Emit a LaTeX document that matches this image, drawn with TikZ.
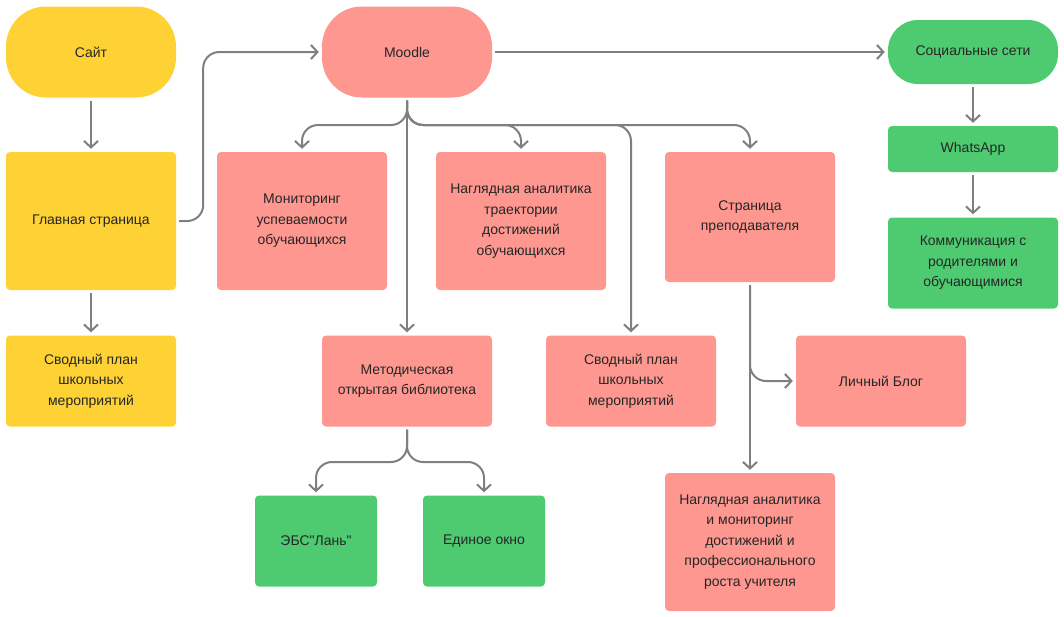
\documentclass[tikz,border=0pt]{standalone}
\usepackage{fontspec}
\setmainfont{Liberation Sans}
\usetikzlibrary{arrows.meta}
\definecolor{yel}{HTML}{FED235}
\definecolor{red}{HTML}{FD978F}
\definecolor{grn}{HTML}{4ECB71}
\definecolor{lc}{HTML}{7F7F7F}
\definecolor{txt}{HTML}{262626}
\tikzset{
  box/.style={rectangle, rounded corners=4pt, minimum width=170pt, minimum height=91pt,
    align=center, text=txt, inner sep=0pt, font=\fontsize{14}{20.5}\selectfont},
  tall/.style={box, minimum height=138pt},
  small/.style={box, minimum width=122pt},
  pill/.style={box, rounded corners=40pt},
  arr/.style={draw=lc, line width=2pt, -{Straight Barb[length=6.5pt,width=14pt,line width=2pt]},
    shorten <=3pt, shorten >=3pt, rounded corners=16pt},
}
\begin{document}
\begin{tikzpicture}[x=1pt,y=-1pt]
\useasboundingbox (0,0) rectangle (1064,616);
% left column
\node[pill, fill=yel] (site) at (91,52) {Сайт};
\node[tall, fill=yel] (main) at (91,221) {Главная страница};
\node[box, fill=yel] (plan1) at (91,381) {Сводный план\\школьных\\мероприятий};
% Moodle
\node[pill, fill=red] (moodle) at (407,52) {Moodle};
\node[tall, fill=red] (mon) at (302,221) {Мониторинг\\успеваемости\\обучающихся};
\node[tall, fill=red] (traj) at (521,221) {Наглядная аналитика\\траектории\\достижений\\обучающихся};
\node[box, fill=red, minimum height=130pt] (page) at (750,217) {Страница\\преподавателя};
\node[box, fill=red] (met) at (407,381) {Методическая\\открытая библиотека};
\node[box, fill=red] (plan2) at (631,381) {Сводный план\\школьных\\мероприятий};
\node[box, fill=red] (blog) at (881,381) {Личный Блог};
\node[tall, fill=red] (anal) at (750,542) {Наглядная аналитика\\и мониторинг\\достижений и\\профессионального\\роста учителя};
\node[small, fill=grn] (ebs) at (316,541) {ЭБС\textquotedbl Лань\textquotedbl};
\node[small, fill=grn] (win) at (484,541) {Единое окно};
% social
\node[box, fill=grn, rounded corners=30pt, minimum height=64pt] (soc) at (973,52) {Социальные сети};
\node[box, fill=grn, minimum height=46pt] (wa) at (973,149) {WhatsApp};
\node[box, fill=grn] (com) at (973,263) {Коммуникация с\\родителями и\\обучающимися};
% bus coordinates
\coordinate (bus1) at (407,125);
\coordinate (bus2) at (407,462);
% connectors
\draw[arr] (site) -- (main);
\draw[arr] (main) -- (plan1);
\draw[arr] (main.east) -- ++(27,0) |- (moodle.west);
\draw[arr] (moodle.east) -- (soc.west);
\draw[arr] (soc) -- (wa);
\draw[arr] (wa) -- (com);
\draw[arr] (moodle.south) -- (met.north);
\draw[arr] (moodle.south) |- (mon.north |- bus1) -- (mon.north);
\draw[arr] (moodle.south) |- (traj.north |- bus1) -- (traj.north);
\draw[arr] (moodle.south) |- (plan2.north |- bus1) -- (plan2.north);
\draw[arr] (moodle.south) |- (page.north |- bus1) -- (page.north);
\draw[arr] (met.south) |- (ebs.north |- bus2) -- (ebs.north);
\draw[arr] (met.south) |- (win.north |- bus2) -- (win.north);
\draw[arr] (page.south) |- (blog.west);
\draw[arr] (page.south) -- (anal.north);
\end{tikzpicture}
\end{document}
